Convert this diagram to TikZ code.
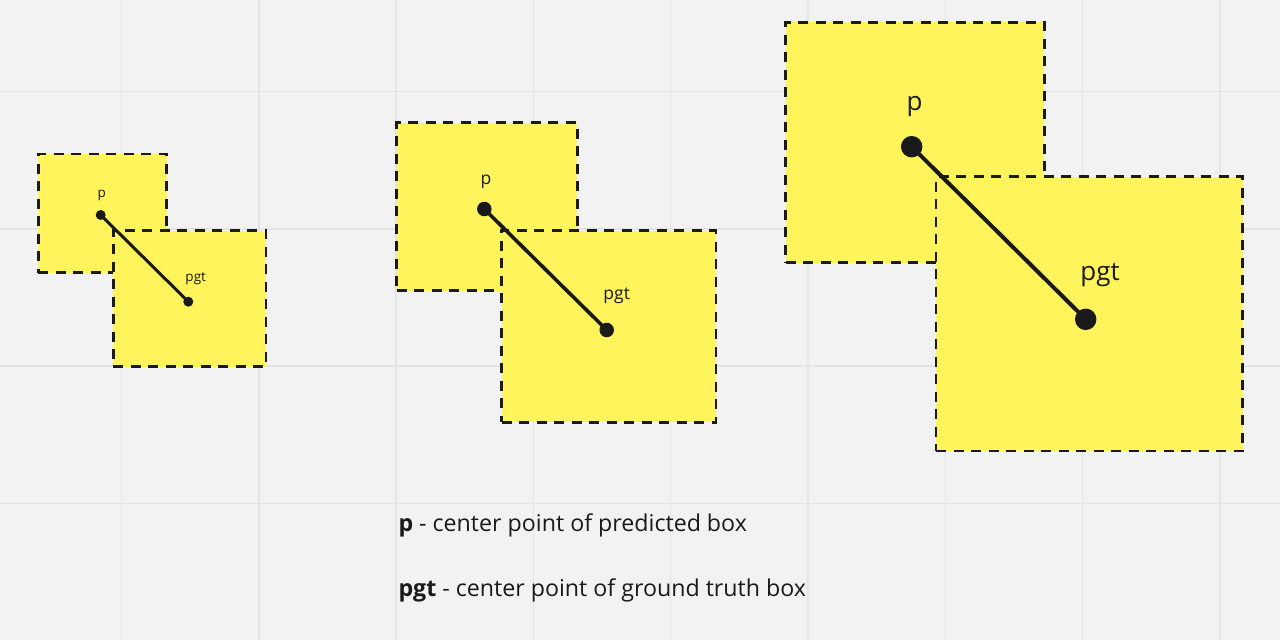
\documentclass[tikz,border=0pt]{standalone}
\usepackage{fontspec}
\setmainfont{Open Sans}
\definecolor{bg}{HTML}{F2F2F2}
\definecolor{gridc}{HTML}{E4E4E4}
\definecolor{sticky}{HTML}{FFF45C}
\definecolor{ink}{HTML}{1A1A1A}
\tikzset{
  box/.style={rectangle, fill=sticky, draw=ink, line width=2.8pt, dash pattern=on 10pt off 7.5pt, inner sep=0pt, outer sep=0pt},
  dot/.style={circle, fill=ink, inner sep=0pt, outer sep=0pt},
  link/.style={draw=ink, line cap=round},
  lbl/.style={inner sep=0pt, anchor=base, text=ink},
  legend/.style={inner sep=0pt, anchor=base west, text=ink, font=\fontsize{23.2}{28}\selectfont}
}
\begin{document}
\begin{tikzpicture}[x=1pt,y=-1pt]
\useasboundingbox (0,0) rectangle (1280,640);
\fill[bg] (0,0) rectangle (1280,640);
\foreach \k in {0,...,8} {
  \draw[gridc, line width=1.4pt] ({121.5+137.3*\k},0) -- ({121.5+137.3*\k},640);
}
\foreach \k in {0,...,3} {
  \draw[gridc, line width=1.4pt] (0,{91.5+137.3*\k}) -- (1280,{91.5+137.3*\k});
}
% set 1
\node[box, minimum width=128.4, minimum height=118.7] (a1) at (102.5,213.4) {};
\node[box, minimum width=152.7, minimum height=136] (b1) at (189.7,298.7) {};
\node[dot, minimum size=10] (p1) at (100.7,215) {};
\node[dot, minimum size=10] (g1) at (188.3,301.7) {};
\draw[link, line width=3pt] (p1.center) -- (g1.center);
\node[lbl, font=\fontsize{13.5}{16}\selectfont] (lp1) at (101.7,197.3) {p};
\node[lbl, font=\fontsize{13.5}{16}\selectfont] (lg1) at (195.7,281.5) {pgt};
% set 2
\node[box, minimum width=180.6, minimum height=168] (a2) at (487,206.7) {};
\node[box, minimum width=214.3, minimum height=191.6] (b2) at (608.85,326.5) {};
\node[dot, minimum size=14.5] (p2) at (484.3,209) {};
\node[dot, minimum size=14.5] (g2) at (606.7,330) {};
\draw[link, line width=3.6pt] (p2.center) -- (g2.center);
\node[lbl, font=\fontsize{17.5}{21}\selectfont] (lp2) at (486,184) {p};
\node[lbl, font=\fontsize{17.5}{21}\selectfont] (lg2) at (616.7,299) {pgt};
% set 3
\node[box, minimum width=258.6, minimum height=240.4] (a3) at (915,142.5) {};
\node[box, minimum width=306.7, minimum height=274.3] (b3) at (1089.35,313.85) {};
\node[dot, minimum size=21.5] (p3) at (911.7,146.7) {};
\node[dot, minimum size=21.5] (g3) at (1085.7,319.3) {};
\draw[link, line width=4pt] (p3.center) -- (g3.center);
\node[lbl, font=\fontsize{26}{31}\selectfont] (lp3) at (914.5,110.5) {p};
\node[lbl, font=\fontsize{26}{31}\selectfont] (lg3) at (1100,280.5) {pgt};
% legend
\node[legend] (leg1) at (398.3,531) {\textbf{p} - center point of predicted box};
\node[legend] (leg2) at (398.3,596.7) {\textbf{pgt} - center point of ground truth box};
\end{tikzpicture}
\end{document}
